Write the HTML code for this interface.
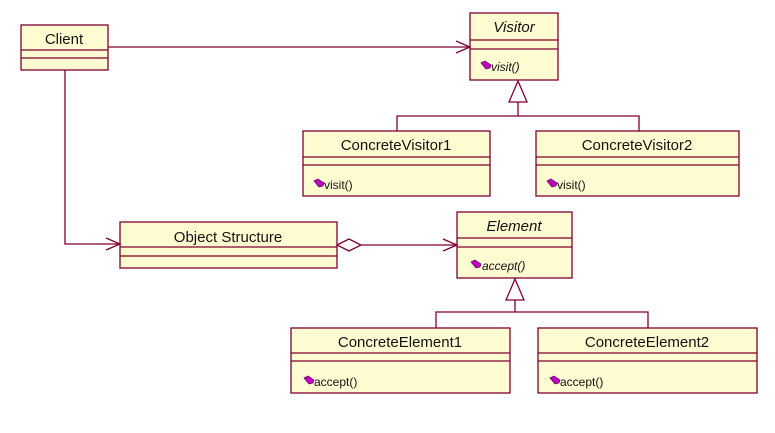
<!DOCTYPE html>
<html><head><meta charset="utf-8"><style>
html,body{margin:0;padding:0;background:#fff;}
svg{display:block;}
text{font-family:"Liberation Sans",sans-serif;font-size:15px;fill:#111;}
.m{font-size:12px;}
.i{font-style:italic;}
</style></head><body>
<svg width="775" height="433" viewBox="0 0 775 433" xmlns="http://www.w3.org/2000/svg">
<defs>
<g id="ic"><path d="M0,1 l4,-2 l6,4 l-1,3 l-4,1 z" fill="#c000c0" stroke="#600060" stroke-width="0.7"/></g>
</defs>
<g fill="#fffcd2" stroke="#800030" stroke-width="1.3">
<rect x="21" y="25" width="87" height="45"/>
<line x1="21" y1="50" x2="108" y2="50"/><line x1="21" y1="58" x2="108" y2="58"/>
<rect x="470" y="13" width="88" height="67"/>
<line x1="470" y1="40" x2="558" y2="40"/><line x1="470" y1="49" x2="558" y2="49"/>
<rect x="303" y="131" width="187" height="65"/>
<line x1="303" y1="157" x2="490" y2="157"/><line x1="303" y1="165" x2="490" y2="165"/>
<rect x="536" y="131" width="203" height="65"/>
<line x1="536" y1="157" x2="739" y2="157"/><line x1="536" y1="165" x2="739" y2="165"/>
<rect x="120" y="222" width="217" height="46"/>
<line x1="120" y1="247" x2="337" y2="247"/><line x1="120" y1="256" x2="337" y2="256"/>
<rect x="457" y="212" width="115" height="66"/>
<line x1="457" y1="238" x2="572" y2="238"/><line x1="457" y1="247" x2="572" y2="247"/>
<rect x="291" y="328" width="219" height="65"/>
<line x1="291" y1="353" x2="510" y2="353"/><line x1="291" y1="361" x2="510" y2="361"/>
<rect x="538" y="328" width="219" height="65"/>
<line x1="538" y1="353" x2="757" y2="353"/><line x1="538" y1="361" x2="757" y2="361"/>
</g>
<g fill="none" stroke="#800030" stroke-width="1.3">
<line x1="108" y1="47" x2="470" y2="47"/>
<polyline points="456,41 470,47 456,53"/>
<polyline points="65,70 65,244 120,244"/>
<polyline points="106,238 120,244 106,250"/>
<line x1="361" y1="245" x2="457" y2="245"/>
<polyline points="443,239 457,245 443,251"/>
<polygon points="337,245 349,239 361,245 349,251" fill="#fff"/>
<polygon points="518,81 509,102 527,102" fill="#fff"/>
<polyline points="518,102 518,116"/>
<polyline points="397,131 397,116 639,116 639,131"/>
<polygon points="515,279 506,300 524,300" fill="#fff"/>
<polyline points="515,300 515,312"/>
<polyline points="436,328 436,312 648,312 648,328"/>
</g>
<text x="64" y="44" text-anchor="middle">Client</text>
<text x="514" y="32" text-anchor="middle" class="i">Visitor</text>
<use href="#ic" x="481" y="62"/><text x="491" y="71" class="m i">visit()</text>
<text x="396" y="150" text-anchor="middle">ConcreteVisitor1</text>
<use href="#ic" x="314" y="180"/><text x="324" y="189" class="m">visit()</text>
<text x="637" y="150" text-anchor="middle">ConcreteVisitor2</text>
<use href="#ic" x="547" y="180"/><text x="557" y="189" class="m">visit()</text>
<text x="228" y="242" text-anchor="middle">Object Structure</text>
<text x="514" y="231" text-anchor="middle" class="i">Element</text>
<use href="#ic" x="471" y="261"/><text x="482" y="270" class="m i">accept()</text>
<text x="400" y="347" text-anchor="middle">ConcreteElement1</text>
<use href="#ic" x="304" y="377"/><text x="314" y="386" class="m">accept()</text>
<text x="647" y="347" text-anchor="middle">ConcreteElement2</text>
<use href="#ic" x="550" y="377"/><text x="560" y="386" class="m">accept()</text>
</svg>
</body></html>
